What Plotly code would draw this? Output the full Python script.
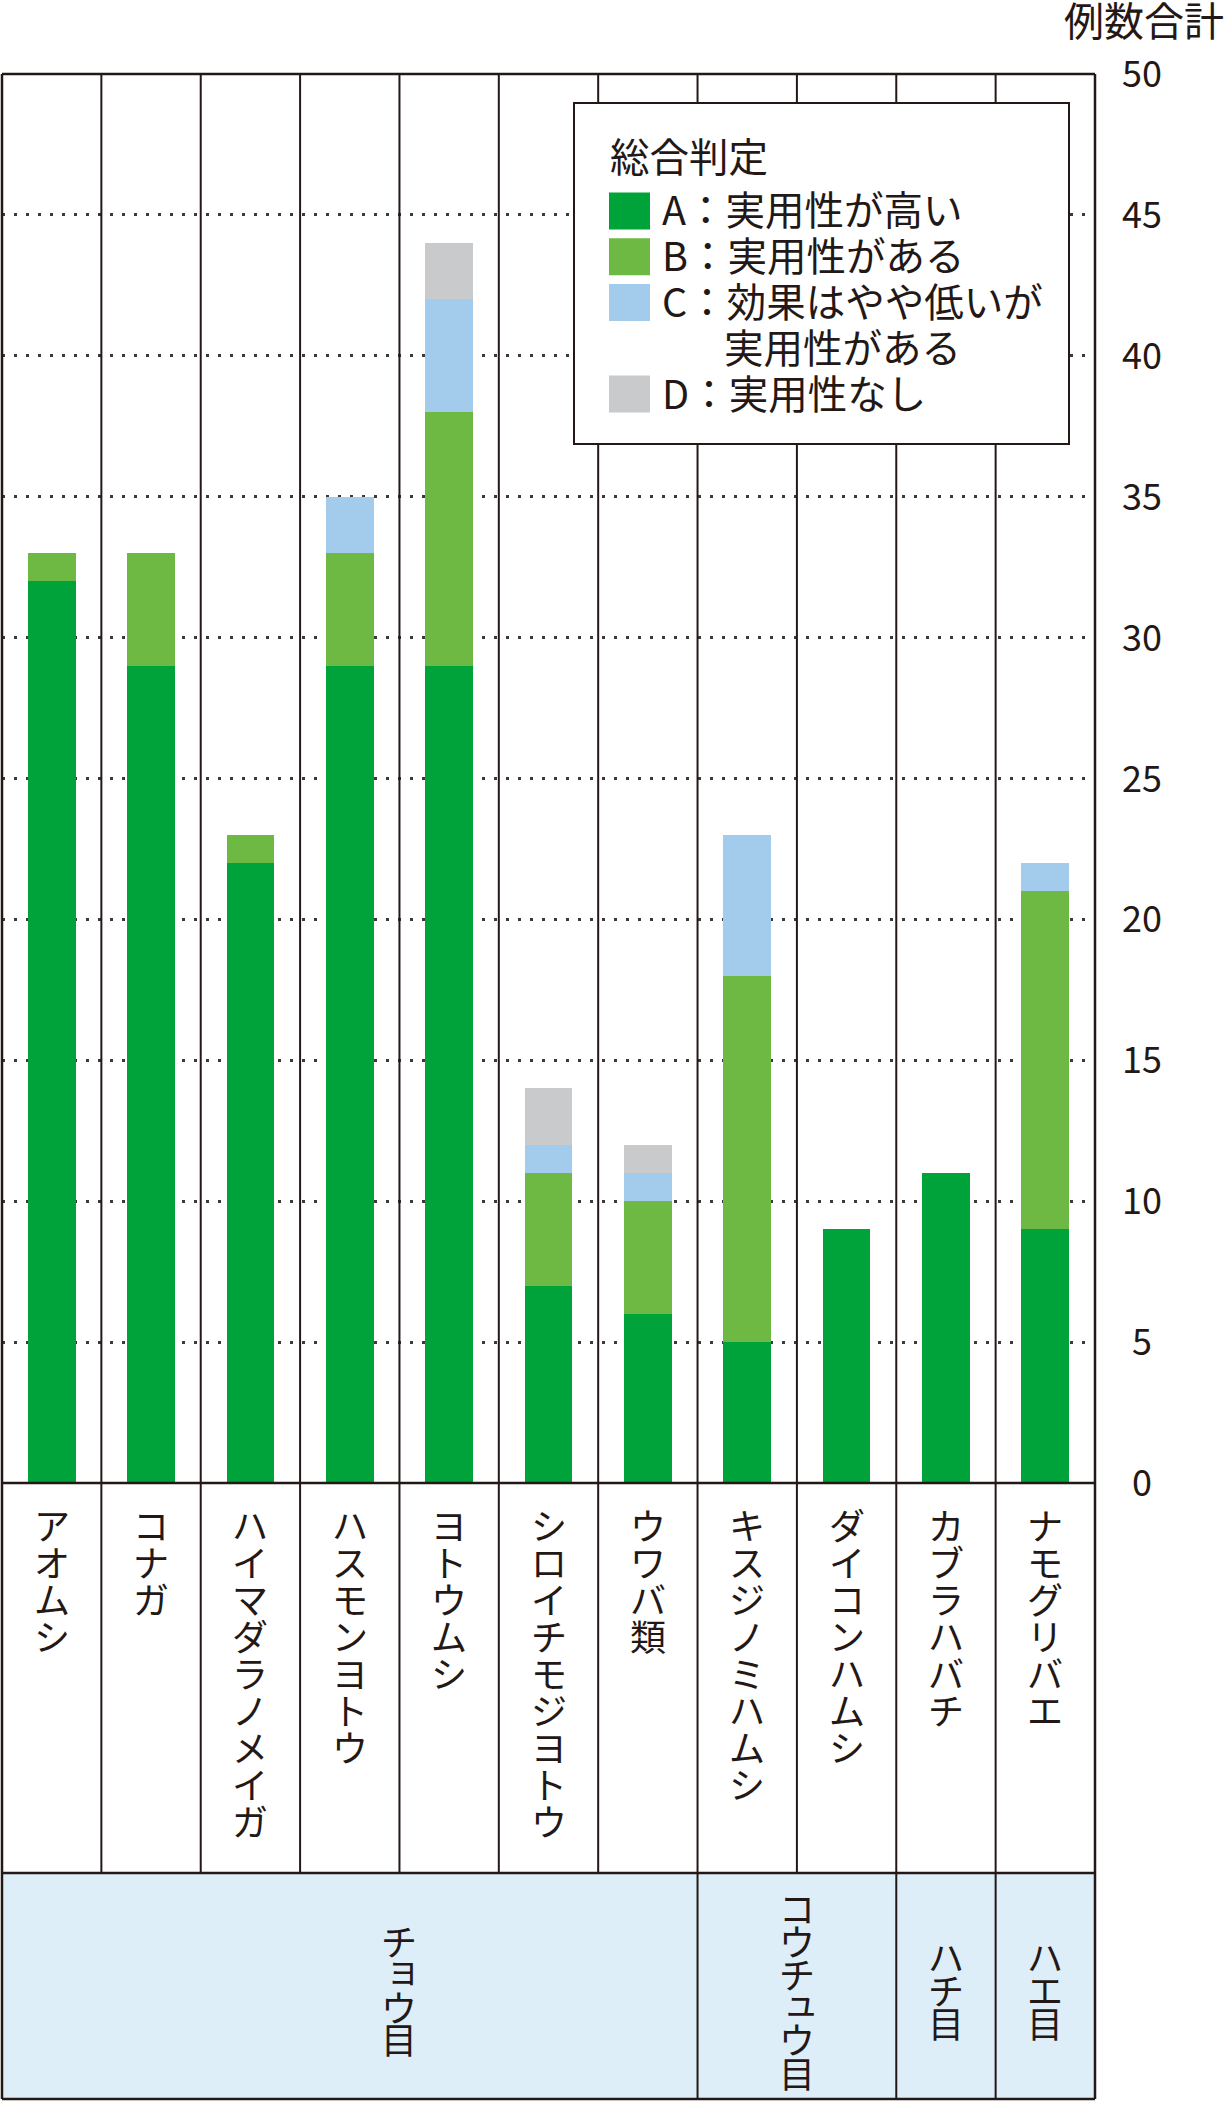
"""Stacked bar chart of test results by pest, grouped by insect order."""
import plotly.graph_objects as go

# Data
categories = ["アオムシ", "コナガ", "ハイマダラノメイガ", "ハスモンヨトウ", "ヨトウムシ",
              "シロイチモジヨトウ", "ウワバ類", "キスジノミハムシ", "ダイコンハムシ",
              "カブラハバチ", "ナモグリバエ"]
a_counts = [32, 29, 22, 29, 29, 7, 6, 5, 9, 11, 9]
b_counts = [1, 4, 1, 4, 9, 4, 4, 13, 0, 0, 12]
c_counts = [0, 0, 0, 2, 4, 1, 1, 5, 0, 0, 1]
d_counts = [0, 0, 0, 0, 2, 2, 1, 0, 0, 0, 0]

series_keys = ["A", "B", "C", "D"]
series_labels = ["実用性が高い", "実用性がある", "効果はやや低いが\n実用性がある", "実用性なし"]
series_colors = ["#00A33A", "#6EB943", "#A2CBEC", "#C9CACB"]

orders = ["チョウ目", "コウチュウ目", "ハチ目", "ハエ目"]
order_sizes = [7, 2, 1, 1]
order_label_at = [4.0, 8.0, 9.5, 10.5]  # column units from the left edge

y_ticks = [0, 5, 10, 15, 20, 25, 30, 35, 40, 45, 50]
y_title = "例数合計"
legend_title = "総合判定"

# Page geometry (pixels)
W, H = 1224, 2102
L, R, T, Z = 2, 1095, 74, 1483   # plot left, right, top (50), zero line
LABEL_BOTTOM = 1873
BAND_BOTTOM = 2099

INK = "#231815"
FONT = "Noto Sans CJK JP"
SMALL_KANA = "ァィゥェォャュョッ"
LIFT = 3  # annotation text sits a little low when anchored at the middle


def fx(p):
    return (p - L) / (R - L)


def fy(p):
    return (Z - p) / (Z - T)


fig = go.Figure()
for key, label, color, values in zip(series_keys, series_labels, series_colors,
                                     [a_counts, b_counts, c_counts, d_counts]):
    fig.add_trace(go.Bar(x=categories, y=values, name=f"{key}：{label}", marker_color=color,
                         marker_line_width=0, width=0.48, showlegend=False))

n = len(categories)
shapes = []
line = dict(color=INK, width=2.5)

# light blue band for the insect orders
shapes.append(dict(type="rect", xref="paper", yref="paper", x0=0, x1=1,
                   y0=fy(BAND_BOTTOM), y1=fy(LABEL_BOTTOM), fillcolor="#DDEEF8",
                   line=dict(width=0), layer="below"))

# column separators
group_edges = []
total = 0
for size in order_sizes:
    total += size
    group_edges.append(total)
for i in range(1, n):
    bottom = BAND_BOTTOM if i in group_edges else LABEL_BOTTOM
    shapes.append(dict(type="line", xref="paper", yref="paper", x0=i / n, x1=i / n,
                       y0=fy(bottom), y1=1, line=dict(color=INK, width=2)))

# frame
for yy in [1, 0, fy(LABEL_BOTTOM), fy(BAND_BOTTOM)]:
    shapes.append(dict(type="line", xref="paper", yref="paper", x0=0, x1=1, y0=yy, y1=yy, line=line))
for xx in [0, 1]:
    shapes.append(dict(type="line", xref="paper", yref="paper", x0=xx, x1=xx,
                       y0=fy(BAND_BOTTOM), y1=1, line=line))

annotations = []
text_font = dict(family=FONT, size=36, color=INK)
legend_font = dict(family=FONT, size=39.5, color=INK)

# legend box
shapes.append(dict(type="rect", xref="paper", yref="paper", x0=fx(574), x1=fx(1069),
                   y0=fy(444), y1=fy(103), fillcolor="white", line=dict(color=INK, width=2),
                   layer="above"))
annotations.append(dict(xref="paper", yref="paper", x=fx(608), y=fy(157), text=legend_title,
                        showarrow=False, xanchor="left", yanchor="middle", yshift=LIFT,
                        font=legend_font))
row = 0
for key, label, color in zip(series_keys, series_labels, series_colors):
    cy = 211 + row * 45.75
    shapes.append(dict(type="rect", xref="paper", yref="paper", x0=fx(609), x1=fx(650),
                       y0=fy(cy + 18.5), y1=fy(cy - 18.5), fillcolor=color,
                       line=dict(width=0), layer="above"))
    for k, part in enumerate(label.split("\n")):
        annotations.append(dict(xref="paper", yref="paper",
                                x=fx(660 if k == 0 else 722), y=fy(cy + k * 45.75),
                                text=f"{key}：{part}" if k == 0 else part,
                                showarrow=False, xanchor="left", yanchor="middle", yshift=LIFT,
                                font=legend_font))
        row += 1

# y tick labels on the right
for v in y_ticks:
    annotations.append(dict(xref="paper", yref="y", x=fx(1142), y=v, text=str(v),
                            showarrow=False, xanchor="center", yanchor="middle", yshift=LIFT,
                            font=text_font))
annotations.append(dict(xref="paper", yref="paper", x=fx(1144), y=fy(22), text=y_title,
                        showarrow=False, xanchor="center", yanchor="middle", yshift=LIFT,
                        font=dict(family=FONT, size=40, color=INK)))


def vertical_text(text, x, top, step):
    # stack characters downward; small kana nudged up-right like vertical typesetting
    for k, ch in enumerate(text):
        small = ch in SMALL_KANA
        annotations.append(dict(xref="paper", yref="paper", x=x, y=fy(top + k * step),
                                text=ch, showarrow=False, xanchor="center", yanchor="middle",
                                xshift=4 if small else 0, yshift=LIFT + (6 if small else 0),
                                font=text_font))


# vertical category labels
for i, name in enumerate(categories):
    vertical_text(name, (i + 0.5) / n, 1527, 37)

# insect order labels
for name, pos in zip(orders, order_label_at):
    vertical_text(name, pos / n, 1992 - (len(name) - 1) / 2 * 33, 33)

fig.update_layout(
    width=W, height=H,
    margin=dict(l=L, r=W - R, t=T, b=H - Z, pad=0),
    barmode="stack",
    plot_bgcolor="white", paper_bgcolor="white",
    font=dict(family=FONT, color=INK),
    xaxis=dict(range=[-0.5, n - 0.5], showticklabels=False, showgrid=False, zeroline=False,
               showline=False, ticks=""),
    yaxis=dict(range=[0, 50], dtick=5, showticklabels=False, showgrid=True, gridcolor="#3a3a3a",
               gridwidth=2.5, griddash="2.5px,9.5px", zeroline=False, showline=False, ticks=""),
    shapes=shapes,
    annotations=annotations,
)

# the page has a default 8px body margin; drop it so the figure sits at the window corner
fig.write_html("out.html", config={"displayModeBar": False},
               post_script="document.body.style.margin='0';")
